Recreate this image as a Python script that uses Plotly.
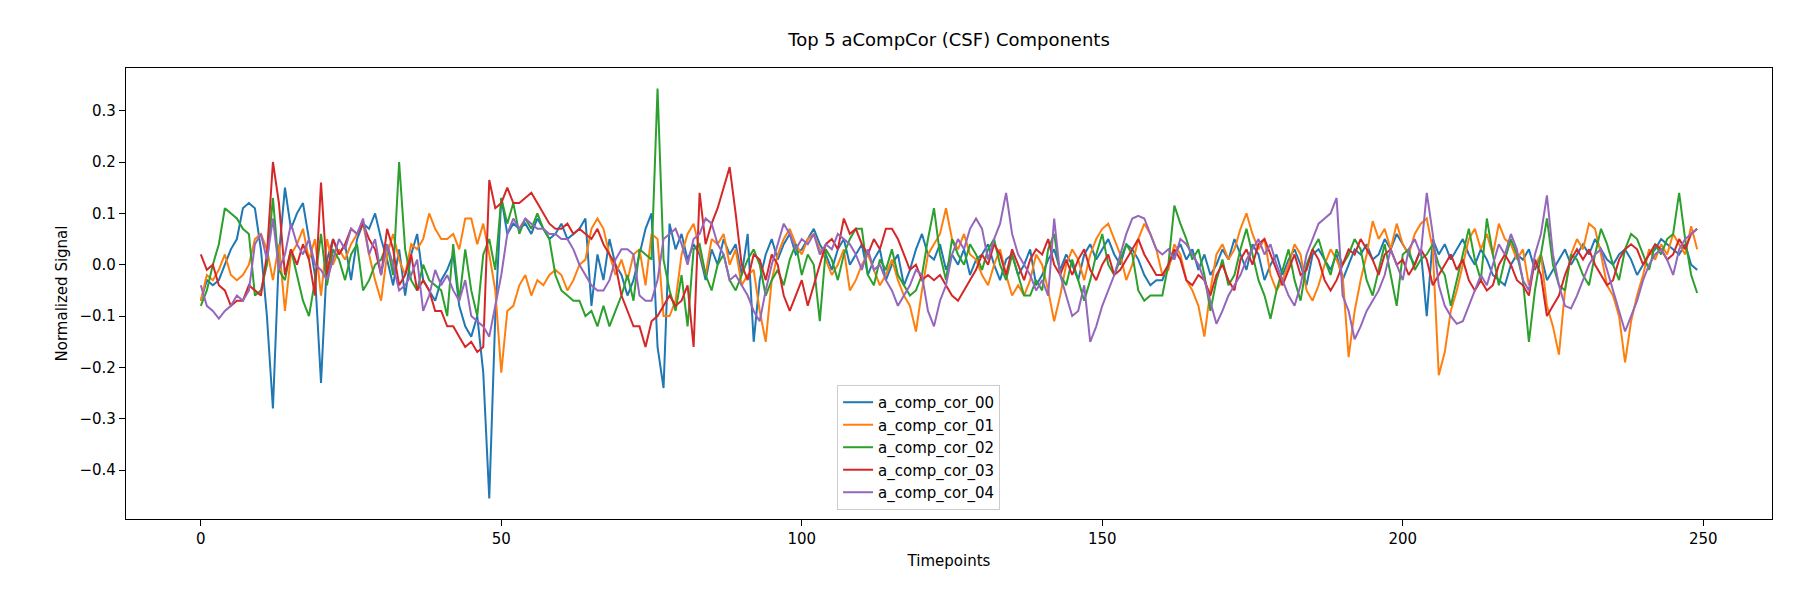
import numpy as np
import plotly.graph_objects as go

timepoints = list(range(250))

comp_00 = [
    -0.07, -0.03, -0.04, -0.03, 0.00, 0.03, 0.05, 0.11, 0.12, 0.11,
    0.03, -0.10, -0.28, 0.02, 0.15, 0.07, 0.10, 0.12, 0.05, -0.02,
    -0.23, 0.01, 0.05, 0.02, 0.04, -0.03, 0.05, 0.08, 0.07, 0.10,
    0.05, 0.01, -0.04, 0.03, -0.06, 0.02, 0.06, -0.03, -0.05, -0.07,
    -0.03, -0.01, 0.02, -0.08, -0.12, -0.14, -0.10, -0.21, -0.455, -0.10,
    0.13, 0.06, 0.08, 0.07, 0.08, 0.06, 0.09, 0.07, 0.05, 0.06,
    0.08, 0.05, 0.06, 0.07, 0.09, -0.08, 0.02, -0.03, 0.05, 0.00,
    -0.02, -0.06, -0.03, 0.02, 0.07, 0.10, -0.16, -0.24, 0.08, 0.03,
    0.06, 0.01, 0.04, 0.02, -0.03, 0.03, 0.00, 0.05, 0.02, 0.04,
    -0.02, 0.06, -0.15, -0.03, 0.02, 0.05, 0.01, 0.04, 0.06, 0.02,
    0.03, 0.05, 0.07, 0.04, 0.02, -0.01, 0.03, 0.05, 0.00, 0.02,
    0.04, -0.02, 0.01, 0.03, -0.03, 0.00, 0.02, -0.04, -0.01, 0.03,
    0.06, 0.02, 0.01, 0.04, -0.01, 0.02, 0.00, 0.03, -0.02, 0.01,
    0.02, 0.04, 0.00, -0.03, 0.01, 0.02, -0.02, 0.00, 0.03, -0.04,
    -0.02, 0.01, 0.03, -0.01, 0.02, 0.00, -0.03, 0.02, 0.04, 0.01,
    0.03, 0.05, 0.02, 0.00, 0.04, 0.03, 0.01, -0.02, -0.04, -0.03,
    -0.03, 0.00, 0.02, 0.04, 0.01, 0.03, -0.01, 0.02, -0.02, 0.00,
    0.03, 0.01, 0.05, 0.02, -0.01, 0.04, 0.02, -0.03, 0.00, 0.02,
    -0.02, 0.01, 0.03, 0.00, -0.04, 0.02, 0.03, 0.01, -0.01, 0.02,
    -0.03, 0.00, 0.03, 0.02, 0.04, 0.01, 0.02, 0.05, 0.03, 0.06,
    0.04, 0.02, 0.00, 0.03, -0.10, 0.05, 0.02, 0.04, 0.01, 0.03,
    0.05, 0.02, 0.00, 0.03, 0.01, -0.02, -0.03, -0.04, 0.00, 0.02,
    0.01, 0.03, -0.01, 0.02, -0.03, -0.01, 0.01, 0.03, 0.00, 0.02,
    0.04, 0.02, 0.05, 0.03, 0.01, 0.00, 0.02, 0.03, 0.01, -0.02,
    0.00, 0.02, 0.03, 0.05, 0.04, 0.03, 0.02, 0.04, 0.00, -0.01,
]

comp_01 = [
    -0.07, -0.02, -0.03, -0.01, 0.02, -0.02, -0.03, -0.02, 0.00, 0.05,
    0.06, 0.03, -0.03, 0.04, -0.09, 0.02, 0.04, 0.07, 0.01, 0.05,
    -0.06, 0.05, 0.00, 0.03, 0.01, 0.04, 0.06, 0.08, 0.02, -0.03,
    -0.07, 0.02, 0.06, 0.01, -0.02, 0.04, 0.03, 0.05, 0.10, 0.07,
    0.05, 0.05, 0.06, 0.03, 0.09, 0.09, 0.04, 0.08, 0.02, -0.05,
    -0.21, -0.09, -0.08, -0.04, -0.02, -0.06, -0.03, -0.04, -0.02, -0.01,
    -0.02, -0.05, -0.03, 0.00, 0.01, 0.07, 0.09, 0.07, 0.02, -0.02,
    0.01, -0.03, 0.02, 0.03, -0.04, 0.06, 0.05, -0.10, -0.10, -0.07,
    0.02, 0.06, 0.08, 0.03, -0.02, 0.05, 0.04, 0.06, 0.00, 0.03,
    -0.04, -0.02, -0.01, -0.09, -0.15, -0.03, 0.02, 0.05, 0.07, 0.04,
    0.02, 0.05, 0.06, 0.03, 0.01, -0.02, 0.00, 0.03, -0.05, -0.03,
    0.00, 0.02, -0.01, -0.04, -0.02, 0.01, -0.03, -0.06, -0.08, -0.13,
    -0.05, 0.02, 0.04, 0.06, 0.11, 0.05, 0.03, 0.06, 0.02, 0.01,
    -0.02, -0.04, 0.00, 0.03, -0.02, -0.06, -0.04, -0.06, -0.03, 0.02,
    0.00, -0.05, -0.11, -0.06, 0.00, 0.03, 0.01, -0.03, 0.02, 0.05,
    0.07, 0.08, 0.05, 0.02, -0.03, 0.00, 0.05, 0.08, 0.06, 0.03,
    -0.02, -0.01, 0.04, 0.02, -0.03, -0.05, -0.08, -0.14, -0.05, 0.02,
    0.04, 0.01, 0.03, 0.07, 0.10, 0.06, 0.03, 0.05, -0.02, -0.05,
    -0.03, 0.00, 0.04, 0.02, -0.05, -0.07, -0.04, 0.00, 0.03, 0.01,
    -0.02, -0.18, -0.09, -0.03, 0.02, 0.085, 0.05, 0.07, 0.03, 0.08,
    0.04, 0.02, 0.06, 0.08, 0.09, 0.03, -0.215, -0.17, -0.09, -0.05,
    0.00, 0.05, 0.07, 0.03, 0.06, 0.02, 0.08, 0.05, 0.04, 0.01,
    0.03, -0.04, 0.00, 0.02, -0.08, -0.12, -0.175, -0.05, 0.02, 0.05,
    0.03, 0.08, 0.07, 0.02, -0.04, -0.06, -0.10, -0.19, -0.11, -0.06,
    -0.02, 0.03, 0.01, 0.04, 0.02, 0.06, 0.04, 0.02, 0.075, 0.03,
]

comp_02 = [
    -0.08, -0.05, 0.00, 0.04, 0.11, 0.10, 0.09, 0.07, 0.06, -0.06,
    -0.05, 0.00, 0.13, -0.01, -0.03, 0.03, -0.02, -0.07, -0.10, -0.03,
    0.06, -0.04, 0.03, 0.01, -0.03, 0.02, 0.04, -0.05, -0.03, 0.00,
    0.01, 0.04, -0.02, 0.20, 0.03, -0.03, -0.05, 0.00, -0.03, -0.04,
    -0.05, -0.10, 0.04, -0.07, 0.03, -0.05, -0.10, 0.02, 0.05, -0.01,
    0.13, 0.08, 0.12, 0.06, 0.09, 0.07, 0.10, 0.07, 0.05, -0.02,
    -0.05, -0.06, -0.07, -0.07, -0.10, -0.09, -0.12, -0.08, -0.12, -0.09,
    -0.06, -0.02, -0.07, 0.03, 0.02, 0.01, 0.343, 0.01, -0.05, -0.09,
    -0.02, -0.12, 0.03, 0.04, -0.02, -0.05, 0.00, 0.02, -0.03, -0.05,
    -0.02, 0.01, 0.03, 0.00, -0.06, -0.03, -0.01, -0.04, 0.01, 0.04,
    -0.02, 0.02, 0.00, -0.11, 0.03, 0.01, -0.03, 0.02, 0.05, 0.07,
    0.07, -0.02, -0.04, 0.01, -0.01, 0.03, -0.02, -0.04, -0.06, -0.05,
    -0.02, 0.05, 0.11, 0.02, -0.03, 0.05, 0.02, 0.00, 0.04, 0.02,
    -0.01, 0.03, 0.05, 0.00, -0.03, 0.02, -0.02, -0.06, -0.06, -0.03,
    -0.05, 0.03, 0.06, -0.02, -0.04, 0.01, -0.03, -0.07, -0.03, 0.02,
    0.06, 0.00, -0.02, 0.01, 0.04, 0.02, -0.05, -0.07, -0.06, -0.06,
    -0.06, 0.00, 0.115, 0.08, 0.05, 0.01, 0.03, -0.02, -0.09, -0.03,
    0.01, -0.04, -0.02, 0.03, 0.07, 0.02, -0.03, -0.06, -0.105, -0.05,
    -0.01, 0.03, -0.03, -0.07, 0.00, 0.03, 0.05, 0.01, -0.02, 0.03,
    0.00, 0.02, 0.05, 0.03, -0.03, -0.06, -0.01, 0.04, -0.02, -0.08,
    0.02, 0.03, -0.01, 0.01, 0.02, 0.04, 0.00, -0.02, -0.08, -0.03,
    0.02, 0.07, 0.01, -0.03, 0.09, 0.02, -0.04, 0.01, 0.05, 0.02,
    -0.03, -0.15, -0.05, 0.02, 0.09, 0.00, -0.04, -0.05, 0.02, 0.01,
    -0.02, -0.04, 0.02, 0.07, 0.04, 0.00, -0.03, 0.03, 0.06, 0.05,
    0.02, -0.01, 0.04, 0.02, 0.05, 0.06, 0.14, 0.05, -0.02, -0.055,
]

comp_03 = [
    0.02, -0.01, 0.00, -0.04, -0.05, -0.08, -0.07, -0.07, -0.04, -0.05,
    -0.06, 0.02, 0.20, 0.12, -0.02, 0.03, 0.00, 0.04, 0.01, -0.06,
    0.16, -0.02, 0.05, 0.02, 0.04, 0.07, 0.06, 0.08, 0.05, 0.03,
    -0.02, 0.07, 0.03, -0.04, -0.02, 0.02, -0.05, -0.03, -0.05, -0.09,
    -0.09, -0.12, -0.12, -0.14, -0.16, -0.15, -0.17, -0.16, 0.165, 0.11,
    0.12, 0.15, 0.12, 0.12, 0.13, 0.14, 0.12, 0.10, 0.08, 0.07,
    0.07, 0.08, 0.06, 0.07, 0.06, 0.05, 0.07, 0.04, 0.02, 0.00,
    -0.06, -0.09, -0.12, -0.12, -0.16, -0.11, -0.10, -0.08, -0.06, -0.08,
    -0.07, -0.04, -0.16, 0.14, 0.04, 0.08, 0.11, 0.15, 0.19, 0.10,
    0.00, -0.03, 0.02, 0.01, -0.03, 0.02, 0.00, -0.06, -0.09, -0.06,
    -0.03, -0.08, -0.04, 0.00, 0.04, 0.05, 0.03, 0.09, 0.06, 0.07,
    0.04, 0.02, 0.05, 0.03, 0.07, 0.07, 0.05, 0.02, -0.01, 0.00,
    -0.03, -0.02, -0.03, -0.02, -0.04, -0.06, -0.07, -0.05, -0.03, -0.01,
    0.02, 0.00, 0.04, 0.02, -0.02, 0.03, 0.00, -0.03, 0.01, 0.03,
    0.02, 0.05, 0.00, -0.02, 0.01, -0.02, 0.01, 0.03, -0.01, -0.03,
    0.00, 0.02, -0.02, -0.01, 0.01, 0.03, 0.05, 0.02, 0.00, -0.02,
    -0.02, 0.00, 0.03, 0.01, -0.03, -0.04, -0.02, -0.03, -0.06, -0.02,
    0.00, -0.03, -0.05, 0.01, 0.03, 0.00, 0.04, 0.05, 0.02, -0.01,
    -0.04, -0.01, 0.02, -0.02, -0.01, 0.03, 0.01, -0.03, -0.05, -0.03,
    0.00, 0.03, 0.02, 0.05, 0.03, 0.01, -0.02, 0.02, 0.03, 0.00,
    0.01, -0.02, 0.00, 0.03, 0.01, -0.04, -0.02, 0.00, 0.02, -0.01,
    0.01, -0.03, -0.05, -0.03, -0.05, -0.04, 0.00, 0.02, 0.00, -0.03,
    -0.04, -0.06, 0.01, -0.02, -0.10, -0.08, -0.06, -0.02, 0.01, 0.03,
    0.01, 0.03, 0.00, -0.02, -0.04, -0.03, 0.01, 0.03, 0.04, 0.03,
    0.00, 0.02, 0.04, 0.03, 0.01, 0.02, 0.05, 0.03, 0.06, 0.07,
]

comp_04 = [
    -0.04, -0.08, -0.09, -0.105, -0.09, -0.08, -0.06, -0.07, -0.05, 0.04,
    0.06, 0.01, 0.09, -0.01, 0.02, 0.08, 0.04, 0.02, 0.05, 0.00,
    -0.01, -0.03, 0.01, 0.05, 0.03, 0.07, 0.06, 0.09, 0.02, 0.05,
    -0.02, 0.04, 0.00, -0.05, -0.04, -0.02, 0.01, -0.09, -0.06, -0.01,
    -0.04, -0.02, -0.05, -0.07, -0.03, -0.10, -0.11, -0.12, -0.14, -0.08,
    -0.02, 0.06, 0.09, 0.07, 0.09, 0.08, 0.07, 0.07, 0.06, 0.06,
    0.05, 0.05, 0.03, 0.00, -0.02, -0.04, -0.05, -0.05, -0.03, 0.01,
    0.03, 0.03, 0.02, -0.06, -0.07, -0.07, -0.03, 0.05, 0.06, 0.07,
    0.04, 0.00, 0.05, 0.06, 0.09, 0.08, 0.04, 0.02, -0.03, -0.02,
    -0.04, -0.06, -0.09, -0.11, -0.05, 0.00, 0.04, 0.08, 0.06, 0.03,
    0.05, 0.04, 0.06, 0.02, 0.04, 0.03, 0.06, 0.05, 0.04, 0.02,
    -0.01, 0.03, -0.01, 0.00, -0.03, -0.05, -0.08, -0.06, -0.04, -0.01,
    -0.02, -0.09, -0.12, -0.07, -0.04, 0.02, 0.05, 0.03, 0.07, 0.09,
    0.07, 0.01, 0.05, 0.08, 0.14, 0.06, 0.02, 0.00, -0.02, -0.05,
    -0.03, -0.06, 0.09, -0.02, -0.06, -0.10, -0.09, -0.04, -0.15, -0.12,
    -0.08, -0.05, -0.02, 0.02, 0.06, 0.09, 0.095, 0.09, 0.06, 0.03,
    0.02, 0.03, 0.01, 0.05, 0.04, 0.02, 0.00, -0.03, -0.07, -0.115,
    -0.09, -0.06, -0.04, -0.02, 0.01, 0.03, 0.05, 0.02, 0.04, 0.00,
    -0.03, -0.06, -0.08, -0.04, 0.02, 0.05, 0.08, 0.09, 0.10, 0.13,
    -0.06, -0.09, -0.145, -0.12, -0.09, -0.07, -0.05, -0.02, 0.03, 0.00,
    -0.03, 0.03, 0.05, 0.02, 0.14, 0.06, -0.04, -0.08, -0.10, -0.115,
    -0.11, -0.08, -0.05, -0.02, -0.04, 0.00, 0.04, 0.02, 0.06, 0.03,
    -0.03, -0.05, 0.02, 0.06, 0.135, 0.02, -0.04, -0.08, -0.085, -0.06,
    -0.03, 0.00, 0.02, 0.03, -0.01, -0.05, -0.09, -0.13, -0.10, -0.07,
    -0.03, 0.00, 0.02, 0.03, 0.01, -0.02, 0.03, 0.05, 0.06, 0.07,
]

names = ["a_comp_cor_00", "a_comp_cor_01", "a_comp_cor_02", "a_comp_cor_03", "a_comp_cor_04"]
series = [comp_00, comp_01, comp_02, comp_03, comp_04]
colors = ["#1f77b4", "#ff7f0e", "#2ca02c", "#d62728", "#9467bd"]

fig = go.Figure()
for name, vals, c in zip(names, series, colors):
    fig.add_trace(go.Scatter(x=timepoints, y=vals, mode="lines", name=name,
                             line=dict(color=c, width=2)))

axis_style = dict(showline=True, linecolor="black", linewidth=1.2, mirror=True,
                  ticks="outside", ticklen=6, tickcolor="black", showgrid=False,
                  zeroline=False, tickfont=dict(size=15, color="black"))

fig.update_layout(
    width=1800, height=600,
    paper_bgcolor="white", plot_bgcolor="white",
    font=dict(family="DejaVu Sans", color="black"),
    title=dict(text="Top 5 aCompCor (CSF) Components", x=(118 + 1764) / 2 / 1800,
               xanchor="center", y=1 - 32 / 600, yanchor="middle", font=dict(size=18)),
    margin=dict(l=118, r=36, t=60, b=89),
    xaxis=dict(range=[-12.45, 261.45], tickvals=[0, 50, 100, 150, 200, 250],
               title=dict(text="Timepoints", font=dict(size=15), standoff=8), **axis_style),
    yaxis=dict(range=[-0.495, 0.383], tickvals=[-0.4, -0.3, -0.2, -0.1, 0.0, 0.1, 0.2, 0.3],
               tickformat=".1f",
               title=dict(text="Normalized Signal", font=dict(size=15), standoff=8), **axis_style),
    legend=dict(x=0.432, y=0.02, xanchor="left", yanchor="bottom",
                bgcolor="rgba(255,255,255,0.8)", bordercolor="#cccccc", borderwidth=1,
                font=dict(size=15)),
)

fig.write_html("out.html")
